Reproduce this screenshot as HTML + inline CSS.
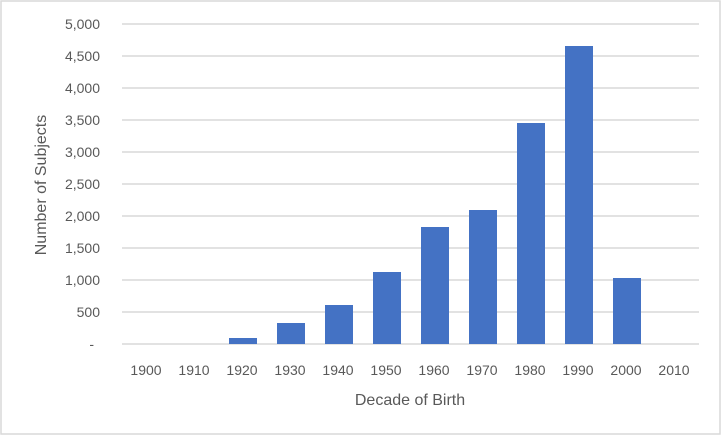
<!DOCTYPE html>
<html><head><meta charset="utf-8"><style>
html,body{margin:0;padding:0;background:#fff;}
</style></head><body>
<svg width="722" height="436" xmlns="http://www.w3.org/2000/svg" font-family="'Liberation Sans', sans-serif" fill="#595959">
<rect x="1" y="1" width="719" height="433" fill="#fff" stroke="#d9d9d9" stroke-width="1.5"/>
<g stroke="#d9d9d9" stroke-width="1.5">
<line x1="122" x2="699" y1="24" y2="24"/><line x1="122" x2="699" y1="56" y2="56"/>
<line x1="122" x2="699" y1="88" y2="88"/><line x1="122" x2="699" y1="120" y2="120"/>
<line x1="122" x2="699" y1="152" y2="152"/><line x1="122" x2="699" y1="184" y2="184"/>
<line x1="122" x2="699" y1="216" y2="216"/><line x1="122" x2="699" y1="248" y2="248"/>
<line x1="122" x2="699" y1="280" y2="280"/><line x1="122" x2="699" y1="312" y2="312"/>
<line x1="122" x2="699" y1="344" y2="344"/>
</g>
<g fill="#4472c4">
<rect x="229" y="338" width="28" height="6"/>
<rect x="277" y="323" width="28" height="21"/>
<rect x="325" y="305" width="28" height="39"/>
<rect x="373" y="272" width="28" height="72"/>
<rect x="421" y="227" width="28" height="117"/>
<rect x="469" y="210" width="28" height="134"/>
<rect x="517" y="123" width="28" height="221"/>
<rect x="565" y="46" width="28" height="298"/>
<rect x="613" y="278" width="28" height="66"/>
</g>
<g font-size="14" text-anchor="end">
<text x="100" y="29">5,000</text><text x="100" y="61">4,500</text>
<text x="100" y="93">4,000</text><text x="100" y="125">3,500</text>
<text x="100" y="157">3,000</text><text x="100" y="189">2,500</text>
<text x="100" y="221">2,000</text><text x="100" y="253">1,500</text>
<text x="100" y="285">1,000</text><text x="100" y="317">500</text>
<text x="94" y="349">-</text>
</g>
<g font-size="14" text-anchor="middle">
<text x="146" y="375">1900</text><text x="194" y="375">1910</text>
<text x="242" y="375">1920</text><text x="290" y="375">1930</text>
<text x="338" y="375">1940</text><text x="386" y="375">1950</text>
<text x="434" y="375">1960</text><text x="482" y="375">1970</text>
<text x="530" y="375">1980</text><text x="578" y="375">1990</text>
<text x="626" y="375">2000</text><text x="674" y="375">2010</text>
</g>
<text x="410" y="405" font-size="16" text-anchor="middle">Decade of Birth</text>
<text transform="translate(46,185) rotate(-90)" font-size="16" text-anchor="middle">Number of Subjects</text>
</svg>
</body></html>
